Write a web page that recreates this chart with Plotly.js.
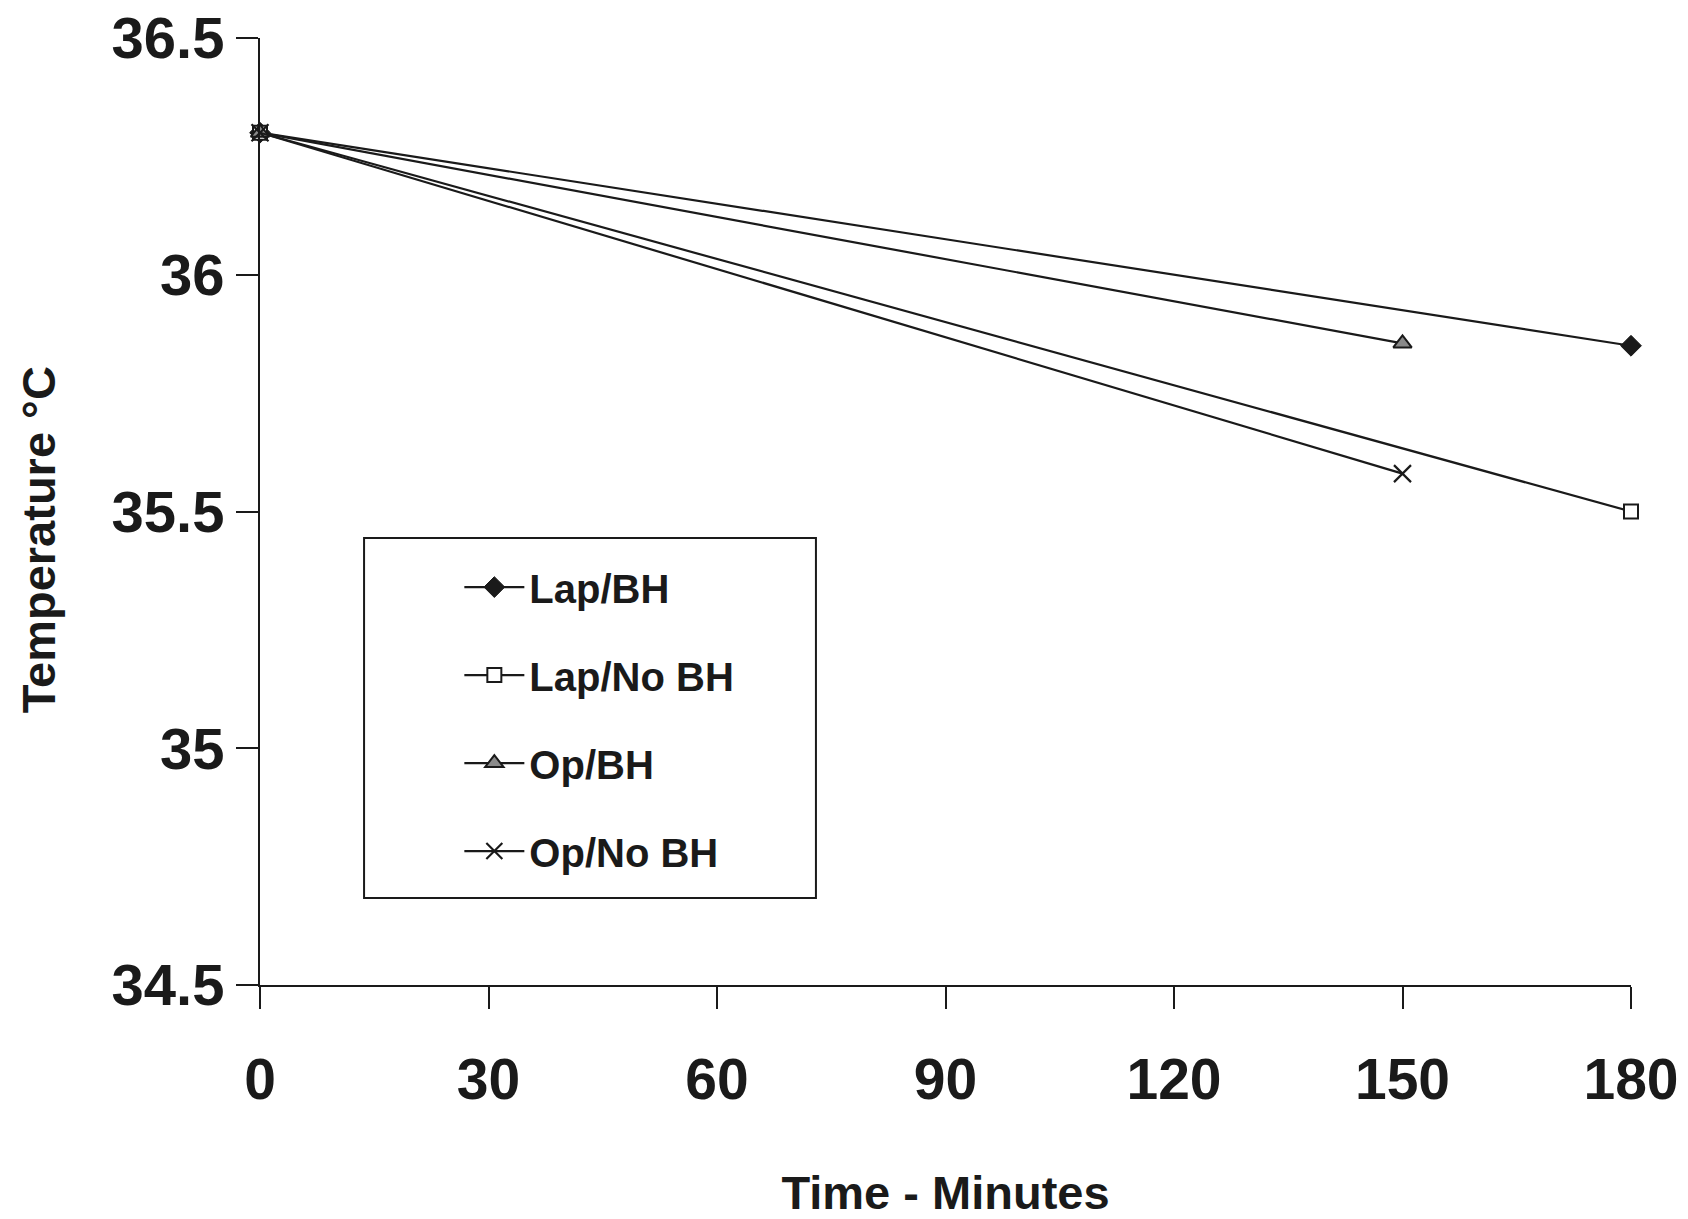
<!DOCTYPE html>
<html>
<head>
<meta charset="utf-8">
<script src="https://cdn.plot.ly/plotly-3.0.1.min.js"></script>
<style>html,body{margin:0;padding:0;background:#fff;}#chart{width:1688px;height:1219px;}</style>
</head>
<body>
<div id="chart"></div>
<script>
// Data
const seriesNames = ["Lap/BH", "Lap/No BH", "Op/BH", "Op/No BH"];
const lapBH_x = [0, 180];
const lapBH_y = [36.3, 35.85];
const lapNoBH_x = [0, 180];
const lapNoBH_y = [36.3, 35.5];
const opBH_x = [0, 150];
const opBH_y = [36.3, 35.855];
const opNoBH_x = [0, 150];
const opNoBH_y = [36.3, 35.58];
const xTicks = [0, 30, 60, 90, 120, 150, 180];
const yTicks = [34.5, 35, 35.5, 36, 36.5];
const yTickLabels = ["34.5", "35", "35.5", "36", "36.5"];

const lineStyle = {color: "#1a1a1a", width: 2.2};
const FONT = "Liberation Sans, Arial, sans-serif";

const traces = [
  {x: lapBH_x, y: lapBH_y, name: seriesNames[0], mode: "lines+markers", legendgroup: "a", cliponaxis: false,
   line: lineStyle, marker: {symbol: "diamond", size: 16, color: "#1a1a1a", line: {color: "#1a1a1a", width: 1}}},
  {x: lapNoBH_x, y: lapNoBH_y, name: seriesNames[1], mode: "lines+markers", legendgroup: "b", cliponaxis: false,
   line: lineStyle, marker: {symbol: "square", size: 14, color: "#ffffff", line: {color: "#1a1a1a", width: 2}}},
  {x: opBH_x, y: opBH_y, name: seriesNames[2], mode: "lines+markers", legendgroup: "c", cliponaxis: false,
   line: lineStyle, marker: {symbol: "triangle-up", size: 16, color: "#8a8a8a", line: {color: "#1a1a1a", width: 2}}},
  {x: opNoBH_x, y: opNoBH_y, name: seriesNames[3], mode: "lines+markers", legendgroup: "d", cliponaxis: false,
   line: lineStyle, marker: {symbol: "x-thin-open", size: 17, color: "#1a1a1a", line: {color: "#1a1a1a", width: 2.2}}}
];

const layout = {
  width: 1688, height: 1219,
  paper_bgcolor: "#ffffff", plot_bgcolor: "#ffffff",
  margin: {l: 260, r: 57, t: 38, b: 234},
  showlegend: true,
  font: {family: FONT, color: "#1a1a1a"},
  xaxis: {
    range: [0, 180], tickvals: xTicks, ticktext: xTicks.map(String),
    showline: true, linecolor: "#1a1a1a", linewidth: 2, mirror: false,
    ticks: "outside", ticklen: 22, tickwidth: 2, tickcolor: "#1a1a1a",
    ticklabelstandoff: 22,
    showgrid: false, zeroline: false,
    tickfont: {family: FONT, size: 57, color: "#1a1a1a", weight: "bold"},
    title: {text: "<b>Time - Minutes</b>", font: {family: FONT, size: 47, color: "#1a1a1a"}, standoff: 75}
  },
  yaxis: {
    range: [34.5, 36.5], tickvals: yTicks, ticktext: yTickLabels,
    showline: true, linecolor: "#1a1a1a", linewidth: 2,
    ticks: "outside", ticklen: 22, tickwidth: 2, tickcolor: "#1a1a1a",
    showgrid: false, zeroline: false,
    tickfont: {family: FONT, size: 58, color: "#1a1a1a", weight: "bold"}
  },
  annotations: [
    {text: "<b>Temperature °C</b>", xref: "paper", yref: "paper", x: -0.161, y: 0.47,
     xanchor: "center", yanchor: "middle", textangle: -90, showarrow: false,
     font: {family: FONT, size: 47, color: "#1a1a1a"}}
  ],
  legend: {
    x: 0.1454, y: 0.4545, xanchor: "left", yanchor: "top",
    bgcolor: "rgba(0,0,0,0)", borderwidth: 0,
    font: {family: FONT, size: 40, color: "#1a1a1a", weight: "bold"},
    tracegroupgap: 33, itemwidth: 60
  },
  shapes: [
    {type: "rect", xref: "paper", yref: "paper", x0: 0.0759, x1: 0.4055, y0: 0.0919, y1: 0.472,
     line: {color: "#1a1a1a", width: 2}, fillcolor: "rgba(0,0,0,0)", layer: "below"}
  ]
};

Plotly.newPlot("chart", traces, layout, {displayModeBar: false, staticPlot: true});
</script>
</body>
</html>
